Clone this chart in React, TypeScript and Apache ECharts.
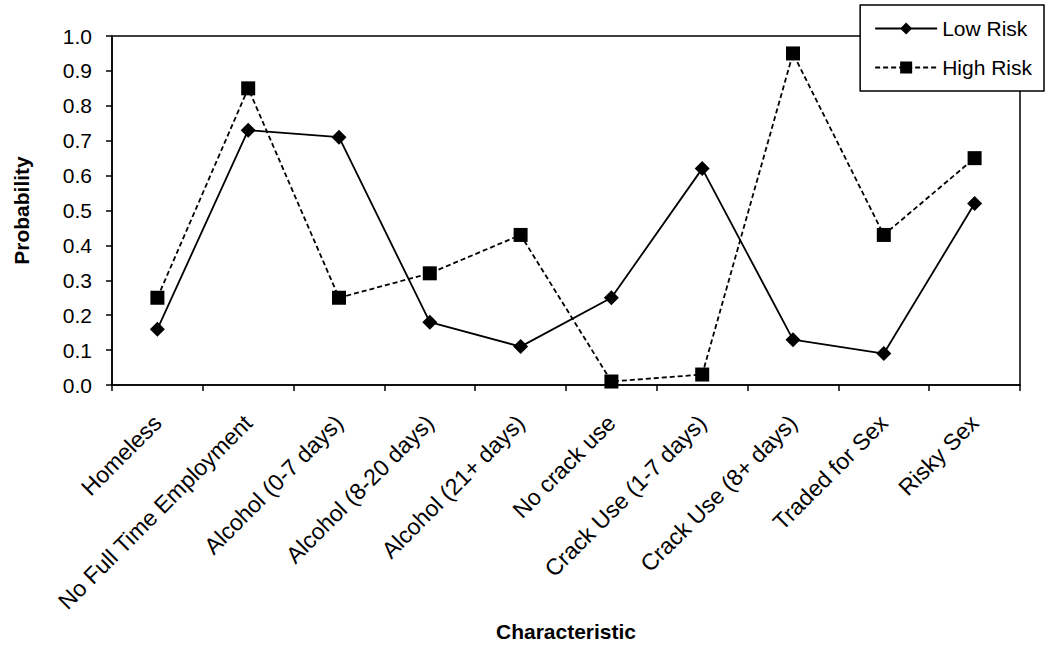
import React, { useEffect, useRef } from "react";
import * as echarts from "echarts";

const categories = [
  "Homeless",
  "No Full Time Employment",
  "Alcohol (0-7 days)",
  "Alcohol (8-20 days)",
  "Alcohol (21+ days)",
  "No crack use",
  "Crack Use (1-7 days)",
  "Crack Use (8+ days)",
  "Traded for Sex",
  "Risky Sex",
];
const lowRisk = [0.16, 0.73, 0.71, 0.18, 0.11, 0.25, 0.62, 0.13, 0.09, 0.52];
const highRisk = [0.25, 0.85, 0.25, 0.32, 0.43, 0.01, 0.03, 0.95, 0.43, 0.65];

const FONT = "Liberation Sans, Arial, sans-serif";

export default function App() {
  const ref = useRef<HTMLDivElement>(null);
  useEffect(() => {
    const chart = echarts.init(ref.current!, null, { renderer: "svg" });
    chart.setOption({
      animation: false,
      backgroundColor: "#fff",
      textStyle: { fontFamily: FONT, color: "#000" },
      grid: {
        left: 112,
        right: 30,
        top: 36,
        bottom: 265,
        containLabel: false,
        outerBoundsMode: "none",
        show: true,
        borderColor: "#000",
        borderWidth: 1.5,
      },
      legend: {
        right: 6,
        top: 5,
        orient: "vertical",
        borderColor: "#000",
        borderWidth: 1.5,
        padding: [13, 12, 13, 14],
        itemGap: 18,
        itemWidth: 62,
        itemHeight: 15,
        backgroundColor: "#fff",
        textStyle: { fontFamily: FONT, fontSize: 21, color: "#000" },
        data: ["Low Risk", "High Risk"],
      },
      xAxis: {
        type: "category",
        data: categories,
        boundaryGap: true,
        axisLine: { lineStyle: { color: "#000", width: 1.5 } },
        axisTick: { show: true, alignWithLabel: false, length: 6, lineStyle: { color: "#000", width: 1.5 } },
        axisLabel: { rotate: 45, fontSize: 23, color: "#000", fontFamily: FONT, margin: 34, interval: 0 },
        name: "Characteristic",
        nameLocation: "middle",
        nameGap: 236,
        nameTextStyle: { fontSize: 21, fontWeight: "bold", color: "#000", fontFamily: FONT },
      },
      yAxis: {
        type: "value",
        min: 0,
        max: 1,
        interval: 0.1,
        splitLine: { show: false },
        axisLine: { show: true, lineStyle: { color: "#000", width: 1.5 } },
        axisTick: { show: true, length: 6, lineStyle: { color: "#000", width: 1.5 } },
        axisLabel: { fontSize: 21, color: "#000", fontFamily: FONT, margin: 20, formatter: (v: number) => v.toFixed(1) },
        name: "Probability",
        nameLocation: "middle",
        nameGap: 80,
        nameRotate: 90,
        nameTextStyle: { fontSize: 21, fontWeight: "bold", color: "#000", fontFamily: FONT },
      },
      series: [
        {
          name: "Low Risk",
          type: "line",
          data: lowRisk,
          symbol: "diamond",
          symbolSize: 15,
          itemStyle: { color: "#000" },
          lineStyle: { color: "#000", width: 1.8, type: "solid" },
        },
        {
          name: "High Risk",
          type: "line",
          data: highRisk,
          symbol: "rect",
          symbolSize: 14,
          itemStyle: { color: "#000" },
          lineStyle: { color: "#000", width: 1.8, type: [5, 3] },
        },
      ],
    });
    return () => chart.dispose();
  }, []);
  return <div ref={ref} style={{ width: 1050, height: 650, position: "absolute", left: 0, top: 0 }} />;
}
